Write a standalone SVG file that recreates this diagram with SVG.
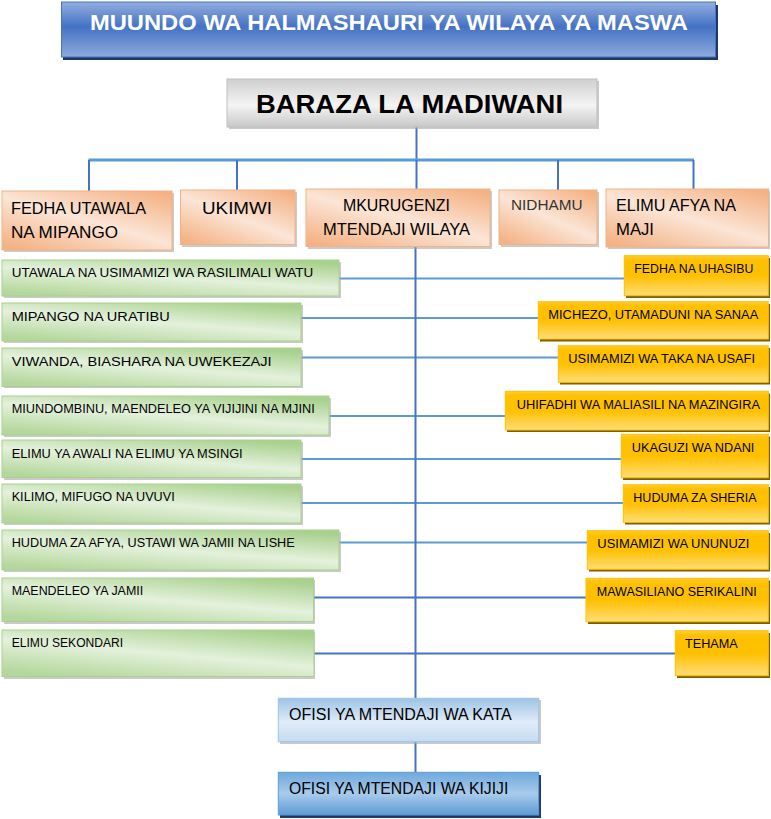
<svg xmlns="http://www.w3.org/2000/svg" width="771" height="819" viewBox="0 0 771 819">
<defs>
<linearGradient id="gTitle" x1="0" y1="0" x2="0" y2="1">
<stop offset="0" stop-color="#93AEDE"/><stop offset="0.45" stop-color="#4472C4"/><stop offset="1" stop-color="#8FAADC"/>
</linearGradient>
<linearGradient id="gGray" x1="0" y1="0" x2="0" y2="1">
<stop offset="0" stop-color="#CFCFCF"/><stop offset="0.55" stop-color="#F4F4F4"/><stop offset="1" stop-color="#C8C8C8"/>
</linearGradient>
<linearGradient id="gPeach" x1="0.1" y1="1" x2="0.9" y2="0">
<stop offset="0" stop-color="#F4B183"/><stop offset="0.5" stop-color="#FBE5D6"/><stop offset="1" stop-color="#F4B183"/>
</linearGradient>
<linearGradient id="gGreen" x1="0.2" y1="1" x2="0.8" y2="0">
<stop offset="0" stop-color="#B4D79B"/><stop offset="0.5" stop-color="#E4F1DC"/><stop offset="1" stop-color="#A9D18E"/>
</linearGradient>
<linearGradient id="gGold" x1="0" y1="0" x2="0" y2="1">
<stop offset="0" stop-color="#FFCC33"/><stop offset="0.12" stop-color="#FFC000"/><stop offset="0.5" stop-color="#FFC000"/><stop offset="1" stop-color="#FFDD77"/>
</linearGradient>
<linearGradient id="gLBlue" x1="0" y1="0" x2="0" y2="1">
<stop offset="0" stop-color="#9DC3E6"/><stop offset="0.55" stop-color="#E0ECF8"/><stop offset="1" stop-color="#C4DBF0"/>
</linearGradient>
<linearGradient id="gMBlue" x1="0" y1="0" x2="0" y2="1">
<stop offset="0" stop-color="#6FA8DC"/><stop offset="0.5" stop-color="#A9CBEB"/><stop offset="1" stop-color="#5B9BD5"/>
</linearGradient>
</defs>
<style>
text{font-family:"Liberation Sans","DejaVu Sans",sans-serif;fill:#000}
.title{fill:url(#gTitle);stroke:#4472C4;stroke-width:1}
.gray{fill:url(#gGray);stroke:#BFBFBF;stroke-width:1}
.peach{fill:url(#gPeach);stroke:#F4B183;stroke-width:1}
.green{fill:url(#gGreen);stroke:#A9D18E;stroke-width:1}
.gold{fill:url(#gGold);stroke:#FFC000;stroke-width:1}
.lblue{fill:url(#gLBlue);stroke:#9DC3E6;stroke-width:1}
.mblue{fill:url(#gMBlue);stroke:#5B9BD5;stroke-width:1}
.sh{fill:#A6A6A6;opacity:0.6}
.shg{fill:#7F6000}
.shb{fill:#1F3864}
.c{stroke:#5B9BD5;stroke-width:2;fill:none}
.cd{stroke:#4472C4;stroke-width:2;fill:none}
.t16{font-size:16px}
.t12{font-size:12px}
.t13{font-size:12.5px}
</style>

<g id="connectors">
<line class="cd" x1="416.5" y1="127" x2="416.5" y2="160"/>
<line x1="88.5" y1="160" x2="694" y2="160" stroke="#5B9BD5" stroke-width="3"/>
<line class="cd" x1="89" y1="160" x2="89" y2="191"/>
<line class="cd" x1="237" y1="160" x2="237" y2="190"/>
<line class="cd" x1="416.5" y1="160" x2="416.5" y2="189"/>
<line class="cd" x1="558" y1="160" x2="558" y2="190"/>
<line class="cd" x1="693.5" y1="160" x2="693.5" y2="189"/>
<line class="c" x1="339" y1="278.5" x2="624" y2="278.5"/>
<line class="c" x1="301" y1="318" x2="538" y2="318"/>
<line class="c" x1="301" y1="357.5" x2="558" y2="357.5"/>
<line class="c" x1="329" y1="416" x2="505" y2="416"/>
<line class="c" x1="301" y1="459" x2="621" y2="459"/>
<line class="c" x1="301" y1="503" x2="623" y2="503"/>
<line class="c" x1="339" y1="542.5" x2="587" y2="542.5"/>
<line class="cd" x1="313" y1="597.5" x2="586" y2="597.5"/>
<line class="cd" x1="314" y1="653.5" x2="675" y2="653.5"/>
<line class="cd" x1="415.5" y1="247" x2="415.5" y2="698"/>
<line class="cd" x1="415.5" y1="742" x2="415.5" y2="772"/>
</g>

<g id="title">
<rect class="shb" x="63" y="5" width="655" height="55"/>
<rect class="title" x="61.5" y="2" width="654" height="55"/>
<text x="90" y="30" font-size="22" font-weight="bold" style="fill:#fff" textLength="598" lengthAdjust="spacingAndGlyphs">MUUNDO WA HALMASHAURI YA WILAYA YA MASWA</text>
</g>

<g id="baraza">
<rect class="sh" x="229" y="81" width="370" height="48"/>
<rect class="gray" x="227" y="79" width="370" height="48"/>
<text x="256" y="112.5" font-size="25" font-weight="bold" textLength="307" lengthAdjust="spacingAndGlyphs">BARAZA LA MADIWANI</text>
</g>

<g id="fedha-utawala">
<rect class="sh" x="4" y="193" width="170" height="59"/>
<rect class="peach" x="2" y="191" width="170" height="59"/>
<text class="t16" x="11" y="213.5" textLength="135" lengthAdjust="spacingAndGlyphs">FEDHA UTAWALA</text>
<text class="t16" x="11" y="237.5" textLength="107" lengthAdjust="spacingAndGlyphs">NA MIPANGO</text>
</g>
<g id="ukimwi">
<rect class="sh" x="182" y="192" width="115" height="55"/>
<rect class="peach" x="180.5" y="190" width="114.5" height="54.5"/>
<text class="t16" x="202" y="214" textLength="70" lengthAdjust="spacingAndGlyphs">UKIMWI</text>
</g>
<g id="mkurugenzi">
<rect class="sh" x="308" y="191" width="184" height="58"/>
<rect class="peach" x="306" y="189" width="184" height="57.5"/>
<text class="t16" x="343" y="210.5" textLength="107" lengthAdjust="spacingAndGlyphs">MKURUGENZI</text>
<text class="t16" x="323" y="235" textLength="147" lengthAdjust="spacingAndGlyphs">MTENDAJI WILAYA</text>
</g>
<g id="nidhamu">
<rect class="sh" x="501" y="192" width="98" height="55"/>
<rect class="peach" x="499" y="190" width="98" height="54.5"/>
<text x="511" y="210" font-size="14" style="fill:#333" textLength="71.5" lengthAdjust="spacingAndGlyphs">NIDHAMU</text>
</g>
<g id="elimu-afya">
<rect class="sh" x="608" y="191" width="162" height="58"/>
<rect class="peach" x="606" y="189" width="162.5" height="58"/>
<text class="t16" x="616" y="210.5" textLength="120" lengthAdjust="spacingAndGlyphs">ELIMU AFYA NA</text>
<text class="t16" x="616" y="235" textLength="38" lengthAdjust="spacingAndGlyphs">MAJI</text>
</g>

<g id="g1">
<rect class="sh" x="4" y="262" width="337" height="36"/>
<rect class="green" x="2" y="260" width="337" height="36"/>
<text class="t12" x="11.7" y="276.5" textLength="301.5" lengthAdjust="spacingAndGlyphs">UTAWALA NA USIMAMIZI  WA RASILIMALI  WATU</text>
</g>
<g id="g2">
<rect class="sh" x="4" y="305" width="299" height="38"/>
<rect class="green" x="2" y="303" width="299" height="38"/>
<text class="t12" x="11.7" y="320.5" textLength="158" lengthAdjust="spacingAndGlyphs">MIPANGO  NA  URATIBU</text>
</g>
<g id="g3">
<rect class="sh" x="4" y="350" width="299" height="38"/>
<rect class="green" x="2" y="348" width="299" height="38.5"/>
<text class="t12" x="11.7" y="365.5" textLength="260" lengthAdjust="spacingAndGlyphs">VIWANDA,  BIASHARA  NA UWEKEZAJI</text>
</g>
<g id="g4">
<rect class="sh" x="4" y="398" width="327" height="39"/>
<rect class="green" x="2" y="396" width="327" height="39"/>
<text class="t12" x="11.7" y="413" textLength="303" lengthAdjust="spacingAndGlyphs">MIUNDOMBINU, MAENDELEO YA VIJIJINI NA MJINI</text>
</g>
<g id="g5">
<rect class="sh" x="4" y="442" width="299" height="38"/>
<rect class="green" x="2" y="440" width="299" height="37.5"/>
<text class="t12" x="11.7" y="457.5" textLength="231" lengthAdjust="spacingAndGlyphs">ELIMU YA AWALI NA ELIMU YA MSINGI</text>
</g>
<g id="g6">
<rect class="sh" x="4" y="486" width="299" height="39"/>
<rect class="green" x="2" y="484" width="299" height="39"/>
<text class="t12" x="11.7" y="500.5" textLength="163" lengthAdjust="spacingAndGlyphs">KILIMO, MIFUGO NA UVUVI</text>
</g>
<g id="g7">
<rect class="sh" x="4" y="532" width="337" height="40"/>
<rect class="green" x="2" y="530" width="337" height="40"/>
<text class="t12" x="11.7" y="546.5" textLength="283" lengthAdjust="spacingAndGlyphs">HUDUMA ZA AFYA, USTAWI WA JAMII NA LISHE</text>
</g>
<g id="g8">
<rect class="sh" x="4" y="580" width="311" height="44"/>
<rect class="green" x="2" y="578" width="311.5" height="43.5"/>
<text class="t12" x="11.7" y="595" textLength="131.5" lengthAdjust="spacingAndGlyphs">MAENDELEO YA JAMII</text>
</g>
<g id="g9">
<rect class="sh" x="4" y="632" width="311" height="47"/>
<rect class="green" x="2" y="630" width="312" height="46.5"/>
<text class="t12" x="11.7" y="646.5" textLength="111.5" lengthAdjust="spacingAndGlyphs">ELIMU SEKONDARI</text>
</g>

<g id="y1">
<rect class="shg" x="626" y="258" width="144" height="40"/>
<rect class="gold" x="624.3" y="255.7" width="144" height="40"/>
<text class="t13" x="634.3" y="272.5" textLength="119" lengthAdjust="spacingAndGlyphs">FEDHA NA UHASIBU</text>
</g>
<g id="y2">
<rect class="shg" x="540" y="304" width="230" height="37.5"/>
<rect class="gold" x="538.3" y="301.7" width="230" height="37.3"/>
<text class="t13" x="548.3" y="319" textLength="210" lengthAdjust="spacingAndGlyphs">MICHEZO, UTAMADUNI NA SANAA</text>
</g>
<g id="y3">
<rect class="shg" x="560" y="348" width="210" height="36.5"/>
<rect class="gold" x="558.3" y="345.7" width="210" height="36.6"/>
<text class="t13" x="568.3" y="362.5" textLength="186.7" lengthAdjust="spacingAndGlyphs">USIMAMIZI WA TAKA NA USAFI</text>
</g>
<g id="y4">
<rect class="shg" x="507" y="393.5" width="263" height="38.5"/>
<rect class="gold" x="505.3" y="391.3" width="263" height="38.7"/>
<text class="t13" x="516.7" y="408.5" textLength="243.3" lengthAdjust="spacingAndGlyphs">UHIFADHI WA MALIASILI NA MAZINGIRA</text>
</g>
<g id="y5">
<rect class="shg" x="623" y="436.5" width="147" height="43.5"/>
<rect class="gold" x="621.3" y="434.3" width="147" height="43.4"/>
<text class="t13" x="631.7" y="452" textLength="122.7" lengthAdjust="spacingAndGlyphs">UKAGUZI WA NDANI</text>
</g>
<g id="y6">
<rect class="shg" x="625" y="487" width="145" height="37.5"/>
<rect class="gold" x="623.3" y="484.7" width="145" height="37.6"/>
<text class="t13" x="633.3" y="502" textLength="123.3" lengthAdjust="spacingAndGlyphs">HUDUMA ZA SHERIA</text>
</g>
<g id="y7">
<rect class="shg" x="589" y="533" width="181" height="38.5"/>
<rect class="gold" x="587.3" y="530.7" width="181" height="38.6"/>
<text class="t13" x="597.3" y="547.5" textLength="152" lengthAdjust="spacingAndGlyphs">USIMAMIZI WA UNUNUZI</text>
</g>
<g id="y8">
<rect class="shg" x="588" y="580.5" width="182" height="43.5"/>
<rect class="gold" x="586" y="578.3" width="182.3" height="43.4"/>
<text class="t13" x="596.7" y="595.5" textLength="160" lengthAdjust="spacingAndGlyphs">MAWASILIANO SERIKALINI</text>
</g>
<g id="y9">
<rect class="shg" x="677" y="633" width="93" height="45"/>
<rect class="gold" x="675.3" y="630.7" width="93" height="45"/>
<text class="t13" x="685" y="647.5" textLength="52.7" lengthAdjust="spacingAndGlyphs">TEHAMA</text>
</g>

<g id="kata">
<rect class="sh" x="280" y="700" width="261" height="44"/>
<rect class="lblue" x="278.3" y="698.3" width="260.4" height="43.4"/>
<text x="289" y="720" font-size="16" textLength="222.7" lengthAdjust="spacingAndGlyphs">OFISI YA MTENDAJI WA KATA</text>
</g>
<g id="kijiji">
<rect class="shb" x="280" y="775" width="261" height="43"/>
<rect class="mblue" x="278.3" y="772.3" width="260.4" height="42.7"/>
<text x="289" y="794" font-size="16" textLength="219.3" lengthAdjust="spacingAndGlyphs">OFISI YA MTENDAJI WA KIJIJI</text>
</g>
</svg>
